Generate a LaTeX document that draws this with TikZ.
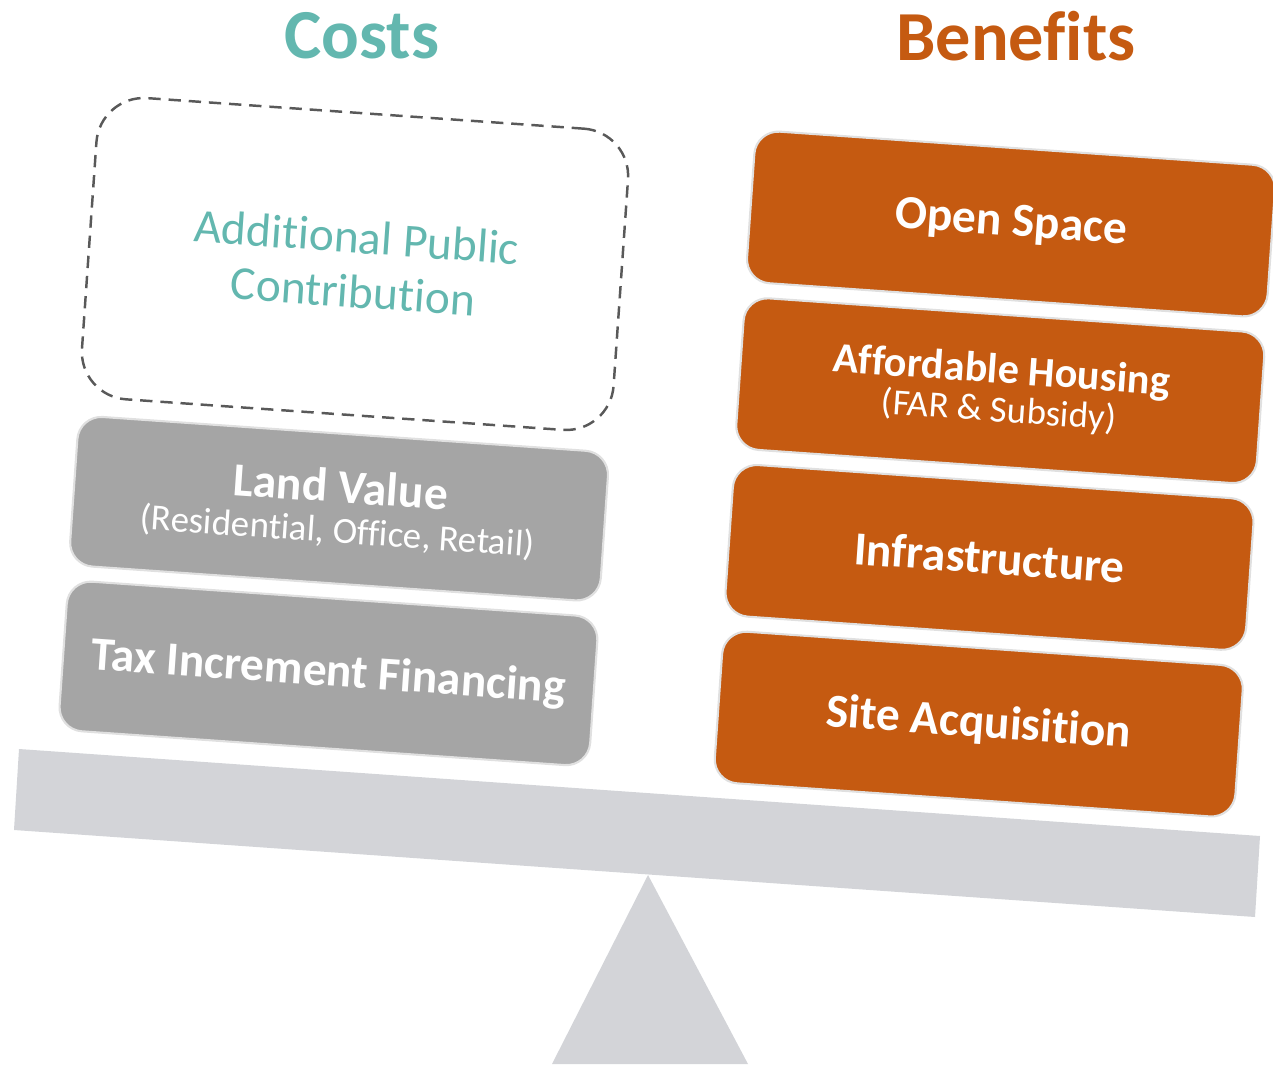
\documentclass[tikz,border=0pt]{standalone}
\usepackage{fontspec}
\setmainfont{Carlito}[Ligatures={NoCommon}]
\usepackage{tikz}
\usetikzlibrary{positioning}
\definecolor{costteal}{RGB}{99,183,175}
\definecolor{benorange}{RGB}{197,90,17}
\definecolor{boxgray}{RGB}{165,165,165}
\definecolor{beamgray}{RGB}{211,212,216}
\definecolor{rimgray}{RGB}{224,224,224}
\definecolor{dashgray}{RGB}{89,89,89}
\newcommand{\subtxt}[1]{{\mdseries\fontsize{21}{25}\selectfont #1}}

\begin{document}
\begin{tikzpicture}[
    x=0.02cm, y=-0.02cm,
    node distance=0.26cm,
    block/.style={rectangle, rounded corners=0.48cm, draw=rimgray, line width=1.2pt,
                  text=white, align=center, rotate=-4, inner sep=4pt,
                  font=\bfseries\fontsize{27}{31}\selectfont},
    cost/.style={block, fill=boxgray, minimum width=10.64cm, minimum height=3cm},
    gain/.style={block, fill=benorange, minimum width=10.44cm, minimum height=3.04cm},
    extra/.style={rectangle, rounded corners=0.95cm, draw=dashgray, line width=1.4pt,
                  dash pattern=on 7pt off 4.5pt, text=costteal, align=center, rotate=-4,
                  minimum width=10.66cm, minimum height=6.04cm,
                  font=\fontsize{27}{31}\selectfont},
    head/.style={font=\bfseries\fontsize{40}{44}\selectfont}
]
\useasboundingbox (0,0) rectangle (1273,1064);

% Fulcrum and beam
\fill[beamgray] (648,875) -- (748,1064) -- (552,1064) -- cycle;
\fill[beamgray] (19,749) -- (1260,836) -- (1255,917) -- (14,830) -- cycle;

% Headings
\node[head, text=costteal] (costs) at (362,36) {Costs};
\node[head, text=benorange] (benefits) at (1016,36) {Benefits};

% Cost side
\node[extra] (apc) at (355,264) {Additional Public\\Contribution};
\node[cost, below=0.34cm of apc] (land) {Land Value\\[-8pt]\subtxt{(Residential, Office, Retail)}};
\node[cost, below=of land] (tif) {Tax Increment Financing};

% Benefit side
\node[gain] (open) at (1011,224) {Open Space};
\node[gain, below=of open, font=\bfseries\fontsize{24}{28}\selectfont] (afford)
  {Affordable Housing\\[-6pt]\subtxt{(FAR \& Subsidy)}};
\node[gain, below=of afford] (infra) {Infrastructure};
\node[gain, below=of infra] (site) {Site Acquisition};
\end{tikzpicture}
\end{document}
